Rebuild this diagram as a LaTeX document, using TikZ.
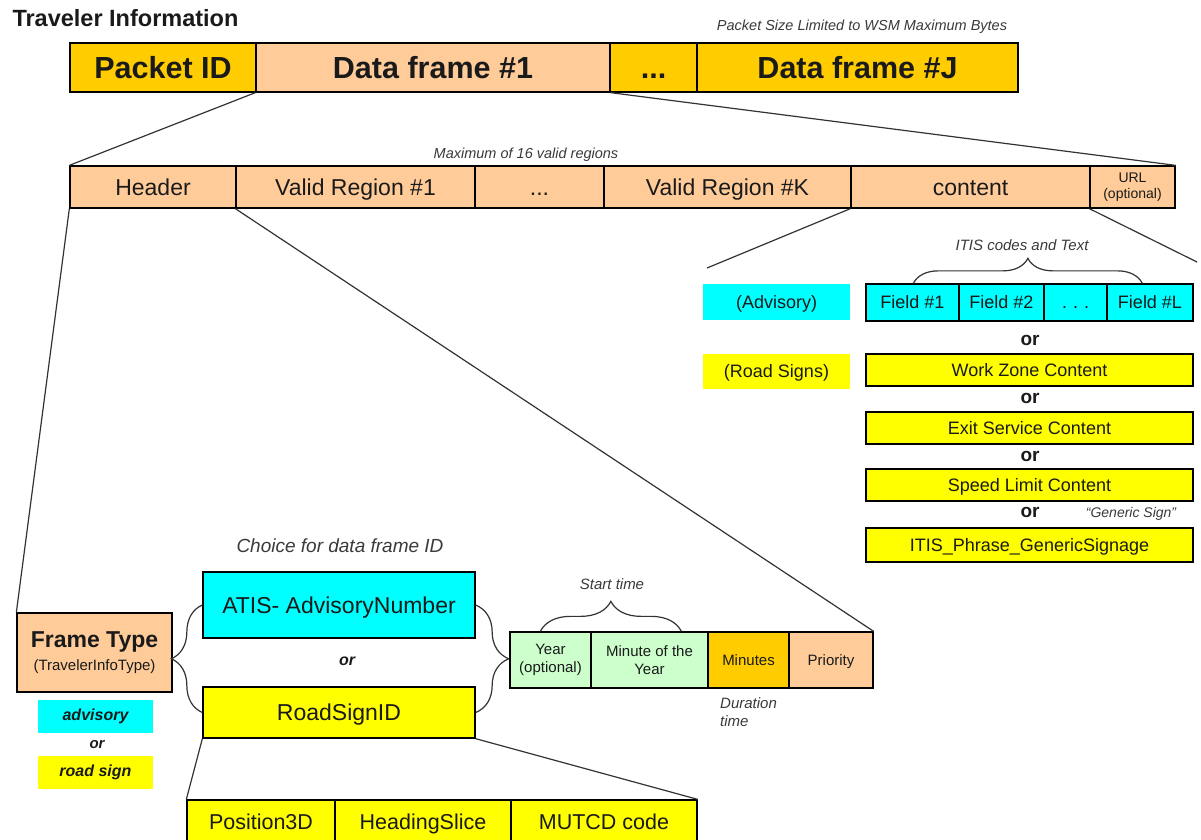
\documentclass[tikz,border=0pt]{standalone}
\usepackage{fontspec}
\setmainfont{Liberation Sans}
\usetikzlibrary{decorations.pathreplacing}
\definecolor{gold}{HTML}{FFCC00}
\definecolor{peach}{HTML}{FFCC99}
\definecolor{aqua}{HTML}{00FFFF}
\definecolor{lemon}{HTML}{FFFF00}
\definecolor{mint}{HTML}{CCFFCC}
\definecolor{ink}{HTML}{1A1A1A}
\definecolor{wire}{HTML}{333333}
\definecolor{soft}{HTML}{3A3A3A}
% \cellat{style}{x1}{y1}{x2}{y2}{name}{text}: a box given by its corners
\newcommand{\cellat}[7]{\node[#1, minimum width={#4-#2}, minimum height={#5-#3}] (#6) at ({(#2+#4)/2},{(#3+#5)/2}) {#7};}
\begin{document}
\begin{tikzpicture}[x=1pt,y=-1pt,
  cell/.style={draw=black, line width=1.3pt, inner sep=0pt, align=center, text=ink},
  tag/.style={inner sep=0pt, align=center, text=ink},
  % single-line labels: the box is the cap height, so capitals sit centred
  big/.style={font=\bfseries\fontsize{30.5}{32}\selectfont, text height=21.8pt, text depth=0pt},
  mid/.style={font=\fontsize{23}{26}\selectfont, text height=16.5pt, text depth=0pt},
  small/.style={font=\fontsize{18}{21}\selectfont, text height=12.9pt, text depth=0pt},
  tiny/.style={font=\fontsize{15}{18}\selectfont, text height=10.7pt, text depth=0pt},
  tinyml/.style={font=\fontsize{15}{18}\selectfont},
  note/.style={inner sep=0pt, align=center, text=soft, font=\itshape\fontsize{15}{18}\selectfont},
  ornote/.style={inner sep=0pt, text=ink, font=\bfseries\fontsize{19}{21}\selectfont},
  wire/.style={draw=wire, line width=1.2pt},
  curly/.style={draw=wire, line width=1.2pt, decorate, decoration={brace, amplitude=#1}}
]
\useasboundingbox[fill=white] (0,0) rectangle (1201,839);

% title and packet
\node[anchor=west, text=ink, font=\bfseries\fontsize{23.5}{26}\selectfont] (title) at (9,18) {Traveler Information};
\node[note, font=\itshape\fontsize{14.5}{17}\selectfont] (pktnote) at (862,27) {Packet Size Limited to WSM Maximum Bytes};
\cellat{cell,fill=gold,big}{70}{43}{256}{92}{pid}{Packet ID}
\cellat{cell,fill=peach,big}{256}{43}{610}{92}{df1}{Data frame \#1}
\cellat{cell,fill=gold,big}{610}{43}{697}{92}{dfdots}{...}
\cellat{cell,fill=gold,big}{697}{43}{1018}{92}{dfj}{Data frame \#J}

% data frame layout
\node[note, font=\itshape\fontsize{14.5}{17}\selectfont] (maxnote) at (526,155) {Maximum of 16 valid regions};
\cellat{cell,fill=peach,mid}{70}{166}{236}{208}{hdr}{Header}
\cellat{cell,fill=peach,mid}{236}{166}{475}{208}{vr1}{Valid Region \#1}
\cellat{cell,fill=peach,mid}{475}{166}{604}{208}{vrdots}{...}
\cellat{cell,fill=peach,mid}{604}{166}{851}{208}{vrk}{Valid Region \#K}
\cellat{cell,fill=peach,mid}{851}{166}{1090}{208}{cnt}{content}
\cellat{cell,fill=peach,font=\fontsize{14}{16}\selectfont}{1090}{166}{1175}{208}{url}{URL\\(optional)}

\draw[wire] (df1.south west) -- (hdr.north west);
\draw[wire] (df1.south east) -- (url.north east);

% content choices
\coordinate (cntL) at (707,268);
\coordinate (cntR) at (1197,262);
\draw[wire] (cnt.south west) -- (cntL);
\draw[wire] (url.south west) -- (cntR);

\node[note] (itisnote) at (1022,245) {ITIS codes and Text};
\cellat{tag,fill=aqua,small}{703}{284}{850}{320}{adv}{(Advisory)}
\cellat{cell,fill=aqua,small}{866}{284}{959}{321}{f1}{Field \#1}
\cellat{cell,fill=aqua,small}{959}{284}{1044}{321}{f2}{Field \#2}
\cellat{cell,fill=aqua,small}{1044}{284}{1107}{321}{fdots}{.\,\,.\,\,.}
\cellat{cell,fill=aqua,small}{1107}{284}{1193}{321}{fl}{Field \#L}
\draw[curly=25] ([xshift=48pt]f1.north west) -- ([xshift=36pt]fl.north west);
\node[ornote] (or1) at (1030,340) {or};
\cellat{tag,fill=lemon,small}{703}{354}{850}{389}{rs}{(Road Signs)}
\cellat{cell,fill=lemon,small}{866}{354}{1193}{386}{wz}{Work Zone Content}
\node[ornote] (or2) at (1030,398) {or};
\cellat{cell,fill=lemon,small}{866}{412}{1193}{444}{exs}{Exit Service Content}
\node[ornote] (or3) at (1030,456) {or};
\cellat{cell,fill=lemon,small}{866}{469}{1193}{501}{spd}{Speed Limit Content}
\node[ornote] (or4) at (1030,512) {or};
\node[note, font=\itshape\fontsize{14}{16}\selectfont] (gennote) at (1131,514) {“Generic Sign”};
\cellat{cell,fill=lemon,small}{866}{528}{1193}{562}{itis}{ITIS\_Phrase\_GenericSignage}

% header detail
\cellat{cell,fill=peach}{17}{613}{172}{692}{ftype}{{\bfseries\fontsize{23}{26}\selectfont Frame Type}\\[6pt]{\fontsize{15}{17}\selectfont (TravelerInfoType)}}
\draw[wire] (hdr.south west) -- (ftype.north west);
\cellat{tag,fill=aqua,font=\bfseries\itshape\fontsize{16}{18}\selectfont}{38}{700}{153}{733}{advtag}{advisory}
\node[ornote, font=\bfseries\itshape\fontsize{15}{17}\selectfont] (or5) at (97,745) {or};
\cellat{tag,fill=lemon,font=\bfseries\itshape\fontsize{16}{18}\selectfont}{38}{756}{153}{789}{rstag}{road sign}

\node[note, font=\itshape\fontsize{19}{22}\selectfont] (choice) at (340,546) {Choice for data frame ID};
\cellat{cell,fill=aqua,mid}{203}{572}{475}{638}{atis}{ATIS- AdvisoryNumber}
\node[ornote, font=\bfseries\itshape\fontsize{16}{18}\selectfont] (or6) at (347,661) {or};
\cellat{cell,fill=lemon,mid}{203}{687}{475}{738}{rsid}{RoadSignID}
\draw[curly=31] (rsid.west) -- (atis.west);
\draw[curly=33] (atis.east) -- (rsid.east);

% time and priority
\cellat{cell,fill=mint,tinyml}{510}{632}{591}{688}{year}{Year\\(optional)}
\cellat{cell,fill=mint,tinyml}{591}{632}{708}{688}{moy}{Minute of the\\Year}
\cellat{cell,fill=gold,tiny}{708}{632}{789}{688}{mins}{Minutes}
\cellat{cell,fill=peach,tiny}{789}{632}{873}{688}{pri}{Priority}
\draw[curly=30] ([xshift=31pt]year.north west) -- ([xshift=91pt]moy.north west);
\node[note] (startnote) at (612,584) {Start time};
\node[note, anchor=north west, align=left] (durnote) at (720,697) {Duration\\time};
\draw[wire] (vr1.south west) -- (pri.north east);

% road sign identification
\cellat{cell,fill=lemon,mid,font=\fontsize{21.5}{24}\selectfont}{187}{800}{335}{843}{pos}{Position3D}
\cellat{cell,fill=lemon,mid,font=\fontsize{21.5}{24}\selectfont}{335}{800}{511}{843}{head}{HeadingSlice}
\cellat{cell,fill=lemon,mid,font=\fontsize{21.5}{24}\selectfont}{511}{800}{697}{843}{mutcd}{MUTCD code}
\draw[wire] (rsid.south west) -- (pos.north west);
\draw[wire] (rsid.south east) -- (mutcd.north east);
\end{tikzpicture}
\end{document}
